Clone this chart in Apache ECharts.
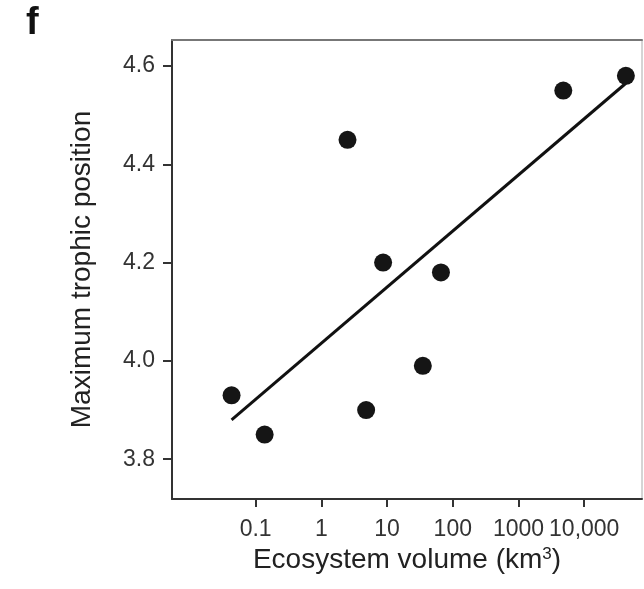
<!DOCTYPE html>
<html>
<head>
<meta charset="utf-8">
<script src="https://cdn.jsdelivr.net/npm/echarts@6/dist/echarts.min.js"></script>
<style>
  html, body { margin: 0; padding: 0; background: #fff; }
  #chart { width: 644px; height: 589px; }
</style>
</head>
<body>
<div id="chart"></div>
<script>
// ecosystem volume (km3) and max trophic position
const volume = [0.043, 0.137, 2.5, 4.8, 8.7, 35, 66, 4800, 43000]
const trophic = [3.93, 3.85, 4.45, 3.90, 4.20, 3.99, 4.18, 4.55, 4.58]

// fitted line end points
const fitVolume = [0.043, 43000]
const fitTrophic = [3.88, 4.565]

const xTicks = [0.1, 1, 10, 100, 1000, 10000]
const yTicks = [3.8, 4.0, 4.2, 4.4, 4.6]

const log10 = v => Math.log10( v )
const fmtVol = v => {
  const n = Math.round( Math.pow( 10, v ) * 1000 ) / 1000
  return n >= 10000 ? n.toLocaleString( 'en-US' ) : String( n )
}

const chart = echarts.init( document.getElementById( 'chart' ) )

const font = 'Liberation Sans, Arial, sans-serif'

chart.setOption( {
  animation : false,
  backgroundColor : '#fff',
  title : {
    text : 'f',
    left : 21,
    top : 0,
    textStyle : { fontFamily : font, fontWeight : 'bold', fontSize : 38, color : '#111' }
  },
  grid : {
    left : 172,
    top : 40,
    right : 2,
    bottom : 90,
    show : true,
    borderColor : '#aaa',
    borderWidth : 1
  },
  xAxis : [
    {
      type : 'value',
      min : -2.273,
      max : 4.879,
      name : 'Ecosystem volume (km{sup|3})',
      nameLocation : 'middle',
      nameGap : 36,
      nameTextStyle : {
        fontFamily : font,
        fontSize : 28,
        color : '#222',
        rich : {
          sup : { fontFamily : font, fontSize : 17, color : '#222', verticalAlign : 'top', padding : [0, 0, 12, 0] }
        }
      },
      splitLine : { show : false },
      axisLine : { onZero : false, lineStyle : { color : '#333', width : 2 } },
      axisTick : {
        customValues : xTicks.map( log10 ),
        length : 8,
        lineStyle : { color : '#333', width : 2 }
      },
      axisLabel : {
        customValues : xTicks.map( log10 ),
        formatter : fmtVol,
        margin : 19,
        fontFamily : font,
        fontSize : 23,
        color : '#333'
      }
    },
    {
      type : 'value',
      position : 'top',
      min : -2.273,
      max : 4.879,
      splitLine : { show : false },
      axisLine : { onZero : false, lineStyle : { color : '#777', width : 2 } },
      axisTick : { show : false },
      axisLabel : { show : false }
    }
  ],
  yAxis : {
    type : 'value',
    min : 3.719,
    max : 4.653,
    name : 'Maximum trophic position',
    nameLocation : 'middle',
    nameGap : 76,
    nameTextStyle : { fontFamily : font, fontSize : 28, color : '#222' },
    splitLine : { show : false },
    axisLine : { onZero : false, lineStyle : { color : '#333', width : 2 } },
    axisTick : {
      customValues : yTicks,
      length : 9,
      lineStyle : { color : '#333', width : 2 }
    },
    axisLabel : {
      customValues : yTicks,
      formatter : v => v.toFixed( 1 ),
      margin : 17,
      fontFamily : font,
      fontSize : 23,
      color : '#333'
    }
  },
  series : [
    {
      type : 'line',
      data : fitVolume.map( ( v, i ) => [log10( v ), fitTrophic[i]] ),
      showSymbol : false,
      symbol : 'none',
      lineStyle : { color : '#111', width : 3 },
      z : 2
    },
    {
      type : 'scatter',
      data : volume.map( ( v, i ) => [log10( v ), trophic[i]] ),
      symbolSize : 18,
      itemStyle : { color : '#151515', opacity : 1 },
      z : 3
    }
  ]
} )
</script>
</body>
</html>
